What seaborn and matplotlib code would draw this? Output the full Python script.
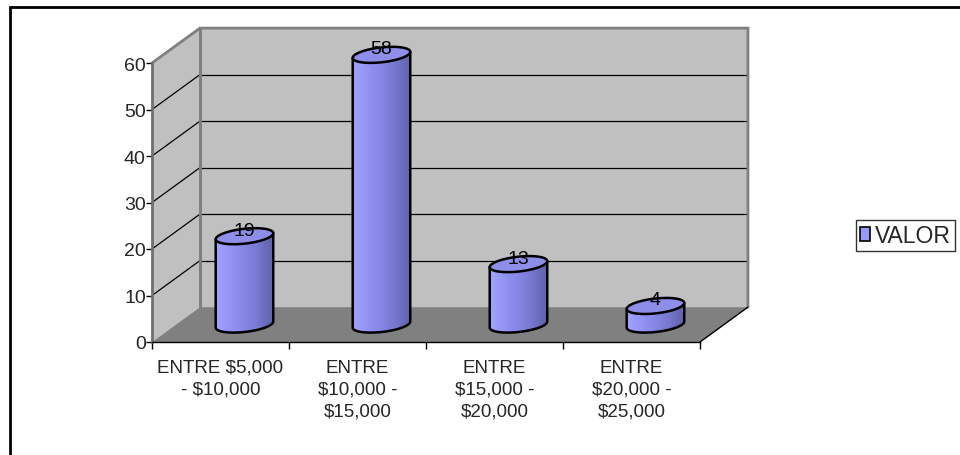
import numpy as np
import pandas as pd
import matplotlib
matplotlib.use("Agg")
import matplotlib.pyplot as plt
import seaborn as sns
from matplotlib.patches import Polygon, Rectangle, Patch
from matplotlib.colors import LinearSegmentedColormap

# --- data -------------------------------------------------------------
categories = ["ENTRE $5,000\n- $10,000",
              "ENTRE\n$10,000 -\n$15,000",
              "ENTRE\n$15,000 -\n$20,000",
              "ENTRE\n$20,000 -\n$25,000"]
values = [19, 58, 13, 4]
series_name = "VALOR"
y_ticks = [0, 10, 20, 30, 40, 50, 60]

# --- style ------------------------------------------------------------
sns.set_theme(style="white")
plt.rcParams['font.family'] = ['Liberation Sans', 'DejaVu Sans']
FS = 13.5

WALL = "#C0C0C0"
FLOOR = "#808080"
EDGE = "#808080"

fig = plt.figure(figsize=(9.6, 4.56), dpi=100)
fig.patch.set_facecolor("white")
ax = fig.add_axes([152 / 960, 1 - 343 / 456, 548 / 960, 279 / 456])
ax.patch.set_visible(False)

df = pd.DataFrame({"rango": categories, "valor": values, "serie": series_name})
sns.barplot(data=df, x="rango", y="valor", hue="serie", ax=ax,
            width=0.42, legend=False, errorbar=None)

n = len(categories)
ymax = y_ticks[-1]
x0, x1 = -0.5, n - 0.5
dx, dy = 0.35, 7.5          # depth offset of the back wall (data units)

# --- 3D box: floor, side wall, back wall ---------------------------------
ax.add_patch(Polygon([(x0, 0), (x1, 0), (x1 + dx, dy), (x0 + dx, dy)],
                     closed=True, fc=FLOOR, ec="none", zorder=0.5, clip_on=False))
ax.add_patch(Rectangle((x0 + dx, dy), x1 - x0, ymax, fc=WALL, ec="none",
                       zorder=0.4, clip_on=False))
ax.add_patch(Polygon([(x0, 0), (x0 + dx, dy), (x0 + dx, ymax + dy), (x0, ymax)],
                     closed=True, fc=WALL, ec="none", zorder=0.4, clip_on=False))

for v in y_ticks[1:-1]:
    ax.plot([x0 + dx, x1 + dx], [v + dy, v + dy], color="black", lw=0.9,
            zorder=1, clip_on=False)
    ax.plot([x0, x0 + dx], [v, v + dy], color="black", lw=0.9,
            zorder=1, clip_on=False)

# wall edges
ax.plot([x0, x0 + dx, x1 + dx, x1 + dx], [ymax, ymax + dy, ymax + dy, dy],
        color=EDGE, lw=2, zorder=1.2, clip_on=False, solid_joinstyle="miter")
ax.plot([x0 + dx, x0 + dx], [dy, ymax + dy], color=EDGE, lw=2.2, zorder=1.2,
        clip_on=False)
ax.plot([x1, x1 + dx], [0, dy], color="black", lw=1, zorder=1.2, clip_on=False)

# --- cylinders built from the seaborn bars --------------------------------
grad = LinearSegmentedColormap.from_list(
    "cyl", ["#A2A2FF", "#8E8EF0", "#7C7CD6", "#6060AC"])
TOP = "#8E8EE8"
a_frac = 0.5
b = 1.6          # half height of the ellipses (data units)
k = 0.65         # tilt of the ellipses
th = np.linspace(0, 2 * np.pi, 121)

for i, p in enumerate(ax.patches[:n]):
    w = p.get_width()
    h = p.get_height()
    cx = p.get_x() + w / 2 + dx / 2
    a = w * a_frac
    base = dy / 2
    top = base + h
    p.set_visible(False)

    lower = th[(th >= np.pi)]
    bx = cx + a * np.cos(lower)
    by = base + b * np.sin(lower) + k * np.cos(lower)
    upper = th[(th <= np.pi)]
    tx = cx + a * np.cos(upper)
    ty = top + b * np.sin(upper) + k * np.cos(upper)

    body_x = np.concatenate([[cx - a], bx, [cx + a], tx])
    body_y = np.concatenate([[top - k], by, [top + k], ty])
    body = Polygon(np.column_stack([body_x, body_y]), closed=True,
                   fc="none", ec="none", zorder=3 + i, clip_on=False)
    ax.add_patch(body)

    g = np.linspace(0, 1, 64).reshape(1, -1)
    im = ax.imshow(g, cmap=grad, aspect="auto", interpolation="bilinear",
                   extent=(cx - a, cx + a, base - b - k, top + b + k),
                   zorder=3 + i)
    im.set_clip_path(body)
    im.set_clip_box(fig.bbox)

    # outline of sides and base
    ax.plot(np.concatenate([[cx - a], bx, [cx + a]]),
            np.concatenate([[top - k], by, [top + k]]),
            color="black", lw=1.8, zorder=3.2 + i, clip_on=False,
            solid_joinstyle="round")
    # top face
    fx = cx + a * np.cos(th)
    fy = top + b * np.sin(th) + k * np.cos(th)
    ax.add_patch(Polygon(np.column_stack([fx, fy]), closed=True, fc=TOP,
                         ec="black", lw=1.8, zorder=3.3 + i, clip_on=False))
    ax.text(cx, top + 1.3, f"{values[i]}", ha="center", va="center",
            fontsize=14, color="black", zorder=3.5 + i, clip_on=False)

# --- axes, ticks and labels -----------------------------------------------
ax.set_xlim(x0, x1)
ax.set_ylim(0, ymax)
for s in ("top", "right"):
    ax.spines[s].set_visible(False)
ax.spines["left"].set_color("#707070")
ax.spines["left"].set_linewidth(2)
ax.spines["left"].set_zorder(2)
ax.spines["bottom"].set_color("black")
ax.spines["bottom"].set_linewidth(1)
ax.spines["bottom"].set_zorder(2)

ax.set_yticks(y_ticks)
ax.set_yticklabels([str(t) for t in y_ticks], fontsize=14)
ax.set_xticks(np.arange(n + 1) - 0.5)
ax.set_xticklabels([])
ax.set_xticks(np.arange(n), minor=True)
ax.set_xticklabels([c.replace("$", r"\$") for c in categories], minor=True,
                   fontsize=FS, linespacing=1.38)
ax.tick_params(axis="y", left=True, length=4, width=1, color="black", pad=0.5)
ax.tick_params(axis="x", which="major", bottom=True, length=5, width=1,
               color="black")
ax.tick_params(axis="x", which="minor", bottom=False, length=0, pad=12)
ax.set_xlabel("")
ax.set_ylabel("")

# --- legend ---------------------------------------------------------------
handle = Patch(facecolor="#9999FF", edgecolor="black", linewidth=1.2,
               label=series_name)
leg = fig.legend(handles=[handle], loc="upper left",
                 bbox_to_anchor=(856 / 960, 1 - 221 / 456), frameon=True,
                 fancybox=False, fontsize=16.5, handlelength=0.45,
                 handleheight=0.5, handletextpad=0.2, borderpad=0.18,
                 borderaxespad=0)
leg.get_frame().set_edgecolor("black")
leg.get_frame().set_linewidth(1)

# --- chart-area frame -------------------------------------------------------
fig.patches.append(Rectangle((10 / 960, -0.2), 1.2, 1.2 - 8 / 456,
                             transform=fig.transFigure, fill=False,
                             ec="black", lw=2, clip_on=False))

fig.savefig("out.png", dpi=100, facecolor="white")
